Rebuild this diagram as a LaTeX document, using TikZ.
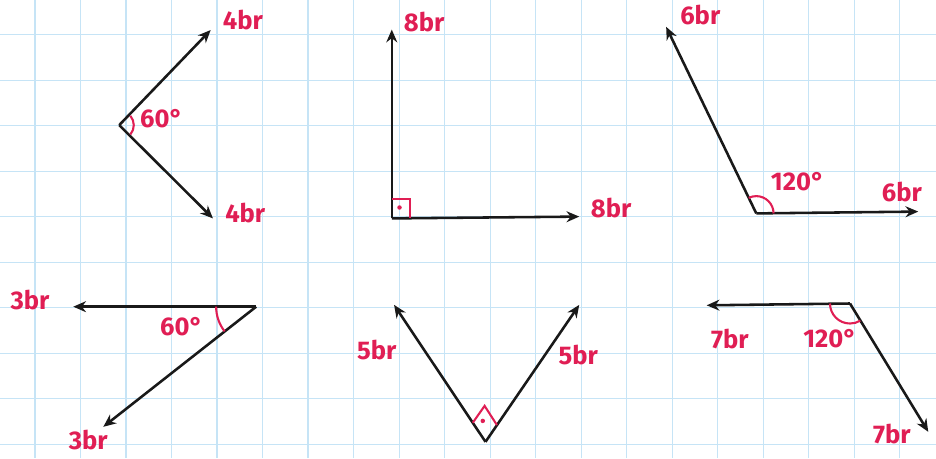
\documentclass[tikz,border=0pt]{standalone}
\usepackage{fontspec}
\setmainfont{Fira Sans}
\usetikzlibrary{arrows.meta}
\definecolor{gridblue}{RGB}{198,228,246}
\definecolor{inkred}{RGB}{224,30,84}
\definecolor{ink}{RGB}{25,25,25}
\tikzset{
  vec/.style={->, draw=ink, line width=1.6pt},
  angarc/.style={draw=inkred, line width=1.3pt},
  lbl/.style={text=inkred, font=\fontsize{16}{16}\selectfont\bfseries, inner sep=1pt}
}
\begin{document}
\begin{tikzpicture}[>={Stealth[length=2.8mm,width=2.4mm]}]
  \useasboundingbox (-0.77,-0.31) rectangle (19.80,9.76);
  % squared paper
  \draw[gridblue, line width=0.7pt, step=1] (-0.77,-0.31) grid (19.80,9.76);

  % 4br and 4br, 60 degrees
  \coordinate (O1) at (1.85,7.01);
  \coordinate (A1) at (3.86,9.10);
  \coordinate (B1) at (3.91,4.96);
  \draw[vec] (O1) -- (A1);
  \draw[vec] (O1) -- (B1);
  \draw[angarc] ([shift={(40:0.32)}]O1) arc (40:-40:0.32);
  \node[lbl] (g1) at (2.78,7.16) {60°};
  \node[lbl] (a1) at (4.57,9.32) {4br};
  \node[lbl] (b1) at (4.62,5.08) {4br};

  % 8br and 8br, right angle
  \coordinate (O2) at (7.84,4.96);
  \coordinate (A2) at (7.84,9.11);
  \coordinate (B2) at (11.96,5.00);
  \draw[vec] (O2) -- (A2);
  \draw[vec] (O2) -- (B2);
  \draw[angarc] ([yshift=0.42cm]O2) -| ([xshift=0.40cm]O2);
  \fill[inkred] ([shift={(0.17,0.24)}]O2) circle (1.4pt);
  \node[lbl] (a2) at (8.55,9.28) {8br};
  \node[lbl] (b2) at (12.66,5.19) {8br};

  % 6br and 6br, 120 degrees
  \coordinate (O3) at (15.85,5.07);
  \coordinate (A3) at (13.87,9.17);
  \coordinate (B3) at (19.41,5.11);
  \draw[vec] (O3) -- (A3);
  \draw[vec] (O3) -- (B3);
  \draw[angarc] ([shift={(0:0.38)}]O3) arc (0:116:0.38);
  \node[lbl] (g3) at (16.76,5.77) {120°};
  \node[lbl] (a3) at (14.62,9.43) {6br};
  \node[lbl] (b3) at (19.05,5.55) {6br};

  % 3br and 3br, 60 degrees
  \coordinate (O4) at (4.86,3.02);
  \coordinate (A4) at (0.84,3.02);
  \coordinate (B4) at (1.50,0.38);
  \draw[vec] (O4) -- (A4);
  \draw[vec] (O4) -- (B4);
  \draw[angarc] ([shift={(180:0.88)}]O4) arc (180:218:0.88);
  \node[lbl] (g4) at (3.22,2.58) {60°};
  \node[lbl] (a4) at (-0.11,3.17) {3br};
  \node[lbl] (b4) at (1.17,0.09) {3br};

  % 5br and 5br, right angle
  \coordinate (O5) at (9.90,0.05);
  \coordinate (A5) at (7.89,3.06);
  \coordinate (B5) at (11.96,3.06);
  \draw[vec] (O5) -- (A5);
  \draw[vec] (O5) -- (B5);
  \draw[angarc] ([shift={(-0.28,0.42)}]O5) -- ([shift={(-0.02,0.79)}]O5)
    -- ([shift={(0.25,0.37)}]O5);
  \fill[inkred] ([shift={(-0.06,0.46)}]O5) circle (1.4pt);
  \node[lbl] (a5) at (7.51,2.07) {5br};
  \node[lbl] (b5) at (11.94,1.96) {5br};

  % 7br and 7br, 120 degrees
  \coordinate (O6) at (17.91,3.09);
  \coordinate (A6) at (14.76,3.05);
  \coordinate (B6) at (19.63,0.27);
  \draw[vec] (O6) -- (A6);
  \draw[vec] (O6) -- (B6);
  \draw[angarc] ([shift={(180:0.44)}]O6) arc (180:301:0.44);
  \node[lbl] (g6) at (17.47,2.32) {120°};
  \node[lbl] (a6) at (15.27,2.32) {7br};
  \node[lbl] (b6) at (18.83,0.23) {7br};
\end{tikzpicture}
\end{document}
